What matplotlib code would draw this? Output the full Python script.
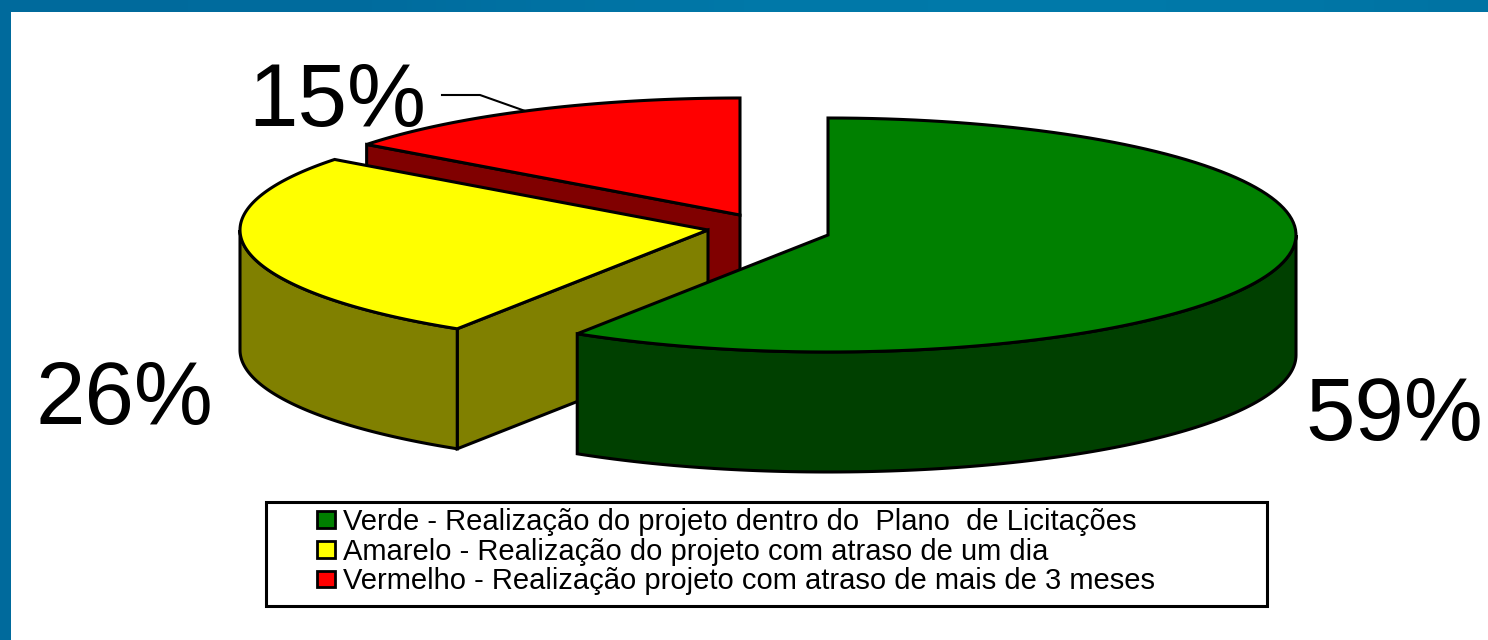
import numpy as np
import matplotlib
matplotlib.use('Agg')
import matplotlib.pyplot as plt
from matplotlib.patches import Patch, Polygon, Rectangle
from matplotlib.colors import LinearSegmentedColormap

plt.rcParams['font.family'] = ['Liberation Sans', 'DejaVu Sans']

# data
shares = [59, 26.3, 14.7]  # as measured on the slices
labels = ['59%', '26%', '15%']
top_colors = ['#008000', '#ffff00', '#ff0000']
side_colors = ['#004000', '#808000', '#800000']
legend_labels = [
    'Verde - Realização do projeto dentro do  Plano  de Licitações',
    'Amarelo - Realização do projeto com atraso de um dia',
    'Vermelho - Realização projeto com atraso de mais de 3 meses',
]

# pie geometry in picture pixels
centers = [(828, 235), (708, 230), (740, 215)]
label_pos = [(1305, 440), (35, 424), (248, 126)]
rx, ry, depth = 468, 117, 120
edge = 2.2

fig = plt.figure(figsize=(14.88, 6.4), dpi=100)
ax = fig.add_axes([0, 0, 1, 1])

# blue frame on top and left
bar = LinearSegmentedColormap.from_list('bar', ['#006a9c', '#006c9e', '#0078a8', '#007aaa', '#0073a3'])
ax.imshow(np.linspace(0, 1, 300).reshape(1, -1), cmap=bar, extent=(0, 1488, 12, 0), aspect='auto', zorder=1)
ax.add_patch(Rectangle((0, 0), 10.5, 640, color='#006a9c', lw=0, zorder=1))
ax.set_xlim(0, 1488)
ax.set_ylim(640, 0)
ax.axis('off')


def arc(center, t0, t1):
    # t in degrees, clockwise from 12 o'clock
    t = np.radians(np.linspace(t0, t1, 120))
    return np.column_stack([center[0] + rx * np.sin(t), center[1] - ry * np.cos(t)])


def draw(pts, color, z):
    ax.add_patch(Polygon(pts, closed=True, facecolor=color, edgecolor='black',
                         lw=edge, joinstyle='miter', zorder=z))


# angles come from the shares
stops = np.cumsum([0] + shares) * 3.6
# back to front: red, yellow, green
for i in [2, 1, 0]:
    c = np.array(centers[i], dtype=float)
    t0, t1 = stops[i], stops[i + 1]
    z = 3 + (2 - i) * 3
    shift = np.array([0, depth])
    # cut face at the start of the slice, seen when it is on the left side
    if 180 < t0 < 360:
        p = arc(c, t0, t0)[0]
        draw([c, p, p + shift, c + shift], side_colors[i], z)
    # outer wall, only the lower half of the rim shows
    a, b = max(t0, 90), min(t1, 270)
    if b > a:
        rim = arc(c, a, b)
        draw(np.vstack([rim, (rim + shift)[::-1]]), side_colors[i], z + 1)
    # top
    draw(np.vstack([c, arc(c, t0, t1)]), top_colors[i], z + 2)

for lab, (x, y) in zip(labels, label_pos):
    ax.text(x, y, lab, fontsize=64, color='black', ha='left', va='baseline', zorder=20)

# leader line of the 15% label
ax.plot([442, 480, 528], [95, 95, 112], color='black', lw=1.5, zorder=2)

# legend
ax.add_patch(Rectangle((265.5, 501.5), 1001, 104, facecolor='white', edgecolor='black', lw=2.2, zorder=15))
handles = [Patch(facecolor=col, edgecolor='black', lw=2, label=lab)
           for col, lab in zip(top_colors, legend_labels)]
ax.legend(handles=handles, loc='upper left', bbox_to_anchor=(314 / 1488, 1 - 505 / 640), frameon=False,
          fontsize=21, labelspacing=0.06, handlelength=0.62, handleheight=0.5, handletextpad=0.27,
          borderpad=0.1, borderaxespad=0).set_zorder(16)

plt.savefig('out.png', dpi=100)
